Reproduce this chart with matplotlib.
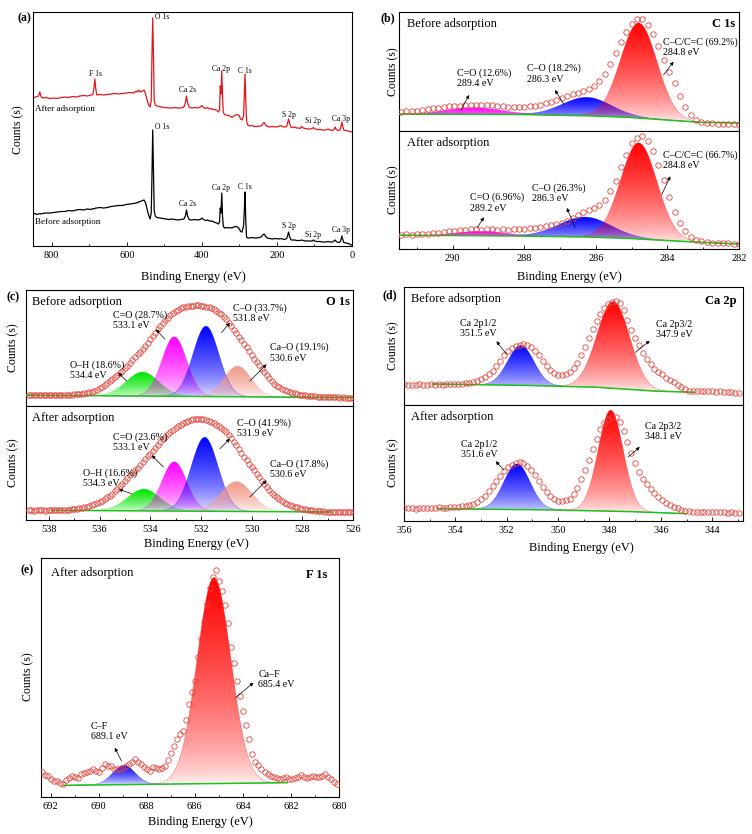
import numpy as np
import matplotlib
matplotlib.use("Agg")
import matplotlib.pyplot as plt
from matplotlib.colors import to_rgb
from matplotlib.ticker import MultipleLocator

plt.rcParams['font.family'] = ['Liberation Serif', 'DejaVu Serif']
plt.rcParams['axes.linewidth'] = 0.8

W, H = 752, 834  # figure size in pixels (dpi=100)

# ---------------- (a) survey spectra ----------------
survey_be = [850, 845, 840, 835, 832, 829, 825, 815, 805, 795, 785, 775, 765, 755, 745, 735, 725, 715, 705, 695,
             690, 687, 685, 683, 680, 672, 662, 652, 642, 632, 622, 612, 602, 592, 582, 575, 572, 568, 564, 558,
             554, 550, 546, 542, 538, 535, 533, 531, 529, 527, 524, 520, 512, 504, 496, 488, 480, 472, 464, 456,
             448, 444, 441, 438, 434, 428, 420, 412, 404, 400, 396, 390, 385, 380, 375, 370, 365, 360, 356, 353,
             351, 349, 347, 345, 343, 340, 335, 330, 325, 320, 315, 310, 305, 300, 297, 293, 289, 287, 285, 283,
             281, 278, 272, 266, 260, 254, 248, 242, 238, 234, 230, 226, 220, 212, 204, 196, 190, 186, 180, 174,
             171, 169, 166, 162, 156, 152, 148, 142, 138, 134, 130, 124, 118, 112, 106, 103, 100, 94, 86, 78,
             70, 64, 58, 52, 47, 45, 42, 37, 32, 29, 27, 25, 22, 16, 10, 5, 0]
survey_after = [149, 148.5, 149.5, 150, 154, 150, 148, 148.5, 147.5, 148, 147.5, 148.5, 149, 148.5, 149.5, 149, 150, 150.5, 150, 151,
                152, 160, 167, 158, 151, 151.5, 151, 151.5, 152, 152.5, 152, 152.5, 153, 153.5, 153, 155, 154, 156, 154, 155,
                156, 152, 146, 141, 139, 145, 190, 228, 190, 145, 141, 140, 139.5, 138.5, 138.5, 138, 138, 138.5, 138, 138,
                139, 143, 150, 143, 139, 138, 138.5, 138, 139, 140.5, 138.5, 137.5, 138.5, 137, 137.5, 136.5, 136.5, 135.5, 134, 136,
                160, 152, 175, 150, 134, 131.5, 131, 130.5, 130, 128.5, 130, 131, 131.5, 130, 127, 126, 130, 150, 172, 145,
                125, 121, 120, 120.5, 119.5, 119.5, 120, 120, 122, 123.5, 121, 119.5, 119, 119.5, 119, 119.5, 120.5, 119.5, 119, 119.5,
                124, 127, 122, 118.5, 118.5, 119, 118, 118, 117.5, 119.5, 118, 117.5, 117, 117, 117.5, 118.5, 117.5, 116.5, 116.5, 116,
                116, 117, 116, 115.5, 117, 119, 116.5, 115.5, 116, 120, 124, 120, 116, 115.5, 115, 114.5, 114]
survey_before = [32, 32.5, 31.5, 32, 32.5, 32, 32.5, 33, 33, 33.5, 34, 34.5, 34.5, 35.5, 35, 36, 36.5, 36, 37, 36.5,
                 37.5, 37, 37.5, 38, 38, 38.5, 38, 38.5, 39.5, 40, 40.5, 40.5, 41.5, 42, 42.5, 43, 43.5, 44, 44.5, 45.5,
                 46, 43, 37, 31, 27, 33, 70, 116, 75, 35, 30, 28.5, 28, 27.5, 27, 26.5, 27, 26.5, 26, 26.5,
                 27, 30, 36, 30, 26.5, 26, 26.5, 26, 26.5, 28, 26.5, 25.5, 26, 25, 25, 24.5, 23.5, 23, 22, 24,
                 38, 33, 53, 30, 20, 18, 18.5, 18, 18.5, 18, 19, 19.5, 19, 17, 14.5, 14, 20, 35, 54, 25,
                 9, 8, 8, 8.5, 8, 8, 8.5, 9, 11, 12, 9.5, 8, 7.5, 7, 7.5, 7, 7.5, 7, 6.5, 7.5,
                 11, 14, 9, 6, 6, 6, 5.5, 5.5, 5.5, 6, 5.5, 5, 5, 5, 5, 6, 5, 4.5, 4.5, 4,
                 4, 4.5, 4, 4, 5.5, 6, 4.5, 3.5, 4, 7, 10, 7, 3.5, 3, 2.5, 1.5, 1]
survey_names = ['F 1s', 'O 1s', 'Ca 2s', 'Ca 2p', 'C 1s', 'S 2p', 'Si 2p', 'Ca 3p']

# ---------------- (b) C 1s ----------------
C1S_START, C1S_STEP = 291.45, 0.15
c1s_before = [19.5, 19.8, 20.3, 20.1, 21.0, 21.6, 22.8, 23.4, 24.3, 24.6,
              25.4, 25.2, 25.9, 26.2, 25.8, 26.4, 25.9, 25.6, 25.0, 24.6,
              24.1, 23.8, 24.2, 24.0, 24.6, 25.5, 26.4, 27.8, 29.3, 30.9,
              32.7, 34.6, 36.7, 38.5, 40.4, 42.5, 45.5, 50.0, 57.0, 67.0,
              78.0, 89.0, 99.5, 107.5, 112.0, 112.5, 106.5, 97.5, 85.5, 71.5,
              59.0, 48.5, 35.5, 24.5, 16.5, 11.5, 9.5, 8.3, 7.9, 7.3,
              7.5, 7.0, 6.6, 6.4]
c1s_after = [14.3, 14.6, 14.2, 14.8, 14.5, 15.2, 15.6, 16.4, 17.0, 17.8,
             18.3, 18.9, 19.2, 19.5, 19.8, 19.4, 19.9, 19.5, 19.2, 19.6,
             19.3, 19.5, 19.8, 20.2, 20.6, 21.2, 22.0, 22.8, 23.9, 24.9,
             26.0, 28.2, 31.3, 34.0, 37.0, 39.0, 40.6, 44.0, 49.0, 57.5,
             68.0, 81.5, 94.3, 105.5, 111.0, 112.7, 108.0, 98.0, 84.3, 68.5,
             52.0, 37.0, 25.5, 17.5, 12.0, 9.3, 7.8, 7.0, 6.3, 6.0,
             5.8, 5.5, 5.3, 5.2]
c1s_base_be = [291.5, 288, 286, 285, 284, 283, 282]
c1s_before_base = [17, 16.5, 15, 13.5, 11, 8.5, 8]
c1s_after_base = [13.8, 13, 11.8, 10.5, 8.5, 6.5, 5]
c1s_before_centers = [289.4, 286.25, 284.8]
c1s_before_heights = [6.6, 18.5, 95]
c1s_before_fwhm = [1.8, 1.6, 1.2]
c1s_after_centers = [289.2, 286.3, 284.8]
c1s_after_heights = [4.4, 20, 96]
c1s_after_fwhm = [1.6, 1.7, 1.2]
c1s_colors = ['#FF00FF', '#0000FF', '#FF0000']

# ---------------- (c) O 1s ----------------
O1S_START, O1S_STEP = 538.8, 0.1
o1s_before = [11.0, 11.3, 10.8, 11.1, 11.2, 10.9, 11.0, 11.3, 11.1, 10.9,
              11.2, 11.0, 11.3, 11.1, 11.4, 11.2, 11.5, 11.4, 11.6, 11.8,
              12.1, 12.4, 12.7, 13.1, 13.7, 14.5, 15.4, 16.5, 17.9, 19.4,
              21.2, 23.0, 24.8, 26.7, 28.6, 30.6, 32.7, 35.2, 37.8, 40.4,
              43.1, 45.9, 48.8, 51.6, 54.4, 57.3, 60.2, 63.3, 66.6, 70.0,
              73.4, 76.8, 80.0, 83.0, 85.8, 88.3, 90.8, 93.0, 94.8, 96.3,
              97.6, 98.6, 99.3, 99.8, 100.2, 100.5, 100.7, 100.7, 100.4, 99.9,
              99.2, 98.6, 97.8, 96.6, 95.2, 93.5, 91.6, 89.4, 86.6, 83.4,
              79.8, 76.2, 72.8, 69.4, 66.0, 62.5, 58.7, 54.9, 51.1, 47.5,
              44.0, 40.6, 37.3, 34.0, 31.0, 28.0, 25.2, 22.5, 20.4, 18.6,
              17.1, 15.9, 15.0, 14.2, 13.4, 12.7, 12.0, 11.4, 10.8, 10.6,
              10.3, 10.1, 9.8, 9.7, 9.5, 9.3, 9.2, 9.0, 8.9, 8.8,
              8.9, 8.6, 8.7, 8.5, 8.6, 8.4, 8.5, 8.3, 8.3]
o1s_after = [9.6, 9.9, 9.5, 9.8, 9.6, 9.9, 9.7, 9.5, 9.8, 9.7,
             10.0, 9.8, 10.1, 10.0, 10.3, 10.2, 10.5, 10.7, 11.0, 11.3,
             11.7, 12.2, 12.8, 13.5, 14.2, 15.0, 15.8, 16.7, 17.8, 19.2,
             20.8, 22.6, 24.4, 26.5, 28.8, 31.1, 33.6, 36.2, 39.0, 41.9,
             44.7, 47.3, 50.0, 52.5, 55.0, 57.9, 60.8, 63.7, 66.5, 69.3,
             72.1, 75.0, 77.8, 80.6, 83.3, 85.9, 88.3, 90.5, 92.4, 94.1,
             95.5, 96.8, 98.0, 99.0, 99.9, 100.6, 101.0, 101.3, 101.3, 101.0,
             100.4, 99.5, 98.3, 97.0, 95.4, 93.6, 91.8, 89.9, 88.0, 85.1,
             81.8, 78.4, 74.9, 71.2, 67.4, 63.5, 59.7, 56.2, 52.9, 49.6,
             46.3, 42.8, 39.4, 36.0, 32.8, 30.0, 27.5, 25.2, 22.8, 20.7,
             18.9, 17.3, 16.1, 15.0, 14.1, 13.3, 12.6, 12.0, 11.5, 11.0,
             10.5, 10.1, 9.8, 9.5, 9.1, 8.8, 8.6, 8.5, 8.3, 8.4,
             8.1, 8.3, 8.0, 8.2, 7.9, 8.1, 7.8, 8.0, 7.9]
o1s_before_base_be = [538.9, 526.0]
o1s_before_base = [10.8, 8.4]
o1s_after_base_be = [537.9, 526.9]
o1s_after_base = [9.7, 8.0]
o1s_before_centers = [534.3, 533.05, 531.8, 530.55]
o1s_before_heights = [24, 59.5, 70.4, 30.7]
o1s_before_fwhm = [1.5, 1.15, 1.2, 1.25]
o1s_after_centers = [534.25, 533.05, 531.85, 530.6]
o1s_after_heights = [21.8, 49.3, 74, 29.9]
o1s_after_fwhm = [1.5, 1.15, 1.25, 1.45]
o1s_colors = ['#00E600', '#FF00FF', '#0000FF', '#F2998C']

# ---------------- (d) Ca 2p ----------------
CA_START, CA_STEP = 356.15, 0.15
ca2p_before = [20.0, 20.6, 19.8, 20.4, 20.1, 20.7, 20.2, 20.5, 20.9, 20.3,
               20.8, 20.5, 21.0, 20.7, 21.2, 21.0, 21.5, 21.8, 22.3, 23.0,
               24.0, 25.8, 28.0, 30.8, 34.0, 39.0, 44.5, 50.3, 54.5, 57.2,
               59.2, 60.5, 61.0, 60.0, 57.8, 54.3, 50.0, 44.5, 39.0, 35.0,
               32.2, 30.5, 30.3, 31.2, 33.5, 37.0, 42.5, 50.0, 58.0, 67.0,
               76.5, 84.5, 91.0, 96.8, 101.0, 103.5, 104.3, 101.8, 95.0, 85.5,
               75.0, 67.5, 60.0, 52.5, 46.5, 40.8, 36.5, 33.5, 30.6, 27.5,
               25.5, 23.0, 20.5, 18.0, 16.0, 14.5, 13.6, 13.9, 14.4, 14.2,
               13.6, 14.0, 13.5, 13.8, 13.1, 12.8, 13.2, 12.4, 12.1]
ca2p_after = [12.6, 13.4, 12.8, 13.3, 12.5, 13.0, 12.9, 13.5, 12.8, 13.2,
              13.6, 13.0, 13.5, 13.8, 14.0, 14.3, 14.6, 15.2, 16.0, 17.3,
              19.0, 22.0, 25.5, 30.0, 35.5, 40.5, 45.5, 50.3, 53.8, 56.5,
              58.3, 58.8, 57.8, 55.5, 51.5, 46.5, 40.5, 34.5, 29.0, 25.0,
              22.0, 20.5, 19.8, 20.6, 22.5, 27.0, 33.5, 42.0, 51.0, 61.5,
              72.0, 82.5, 92.0, 98.3, 102.5, 104.0, 104.0, 99.0, 90.0, 79.0,
              68.0, 58.5, 49.0, 42.0, 37.0, 32.0, 27.8, 24.3, 21.5, 18.5,
              16.5, 14.5, 12.7, 11.3, 10.4, 9.7, 9.4, 9.2, 9.5, 9.0,
              9.3, 8.8, 9.2, 8.6, 9.0, 8.5, 8.8, 8.2, 8.0]
ca2p_before_base_be = [354.9, 351, 348.4, 346.1, 344.7]
ca2p_before_base = [21, 19.5, 17.7, 13.7, 12.7]
ca2p_after_base_be = [354.7, 350, 347, 345]
ca2p_after_base = [12.3, 11, 9.3, 7.3]
ca2p_before_centers = [351.45, 347.85]
ca2p_before_heights = [40, 86.7]
ca2p_before_fwhm = [1.2, 1.5]
ca2p_after_centers = [351.6, 347.95]
ca2p_after_heights = [45.8, 101]
ca2p_after_fwhm = [1.2, 1.15]
ca2p_colors = ['#0000FF', '#FF0000']

# ---------------- (e) F 1s ----------------
F1S_START, F1S_STEP = 692.35, 0.125
f1s_after = [25.0, 22.5, 21.0, 18.0, 16.5, 16.0, 14.5, 12.7, 17.0, 19.5,
             21.0, 20.0, 19.3, 22.7, 24.0, 25.0, 26.5, 27.7, 26.0, 25.0,
             29.0, 32.7, 31.5, 31.0, 28.5, 27.7, 28.2, 29.0, 31.0, 32.7,
             35.0, 37.7, 35.5, 32.7, 30.0, 27.7, 26.0, 30.5, 29.5, 27.7,
             29.5, 31.0, 37.0, 44.0, 51.0, 58.0, 63.5, 66.5, 77.0, 93.0,
             105.0, 116.0, 140.0, 158.0, 175.5, 193.5, 209.0, 220.0, 227.0, 216.0,
             206.0, 192.0, 174.3, 150.0, 134.3, 116.0, 101.0, 86.0, 72.0, 58.5,
             43.5, 35.5, 32.0, 27.7, 25.5, 23.5, 21.0, 20.3, 19.5, 18.3,
             19.0, 20.0, 18.0, 17.7, 19.3, 20.5, 21.7, 20.2, 19.3, 20.0,
             21.0, 20.4, 20.0, 21.5, 22.7, 20.5, 18.3, 15.0, 12.7]
f1s_base_be = [691.45, 682.15]
f1s_base = [11.7, 14.3]
f1s_centers = [688.95, 685.2]
f1s_heights = [19.3, 206]
f1s_fwhm = [1.1, 1.65]
f1s_colors = ['#0000FF', '#FF0000']

fig = plt.figure(figsize=(W / 100, H / 100), dpi=100)


def px_axes(left, top, right, bottom):
    return fig.add_axes([left / W, 1 - bottom / H, (right - left) / W, (bottom - top) / H])


def fig_text(x, y, s, **kw):
    fig.text(x / W, 1 - y / H, s, **kw)


def grad_fill(ax, x, base, top, color):
    """fill between base and top with a vertical color -> transparent gradient"""
    coll = ax.fill_between(x, base, top, facecolor='none', edgecolor='none')
    img = np.ones((256, 1, 4))
    img[:, 0, :3] = to_rgb(color)
    img[:, 0, 3] = np.linspace(0.0, 1.0, 256) ** 0.6
    im = ax.imshow(img, extent=(x.min(), x.max(), base.min(), top.max()), origin='lower',
                   aspect='auto', interpolation='bilinear', zorder=2)
    im.set_clip_path(coll.get_paths()[0], transform=ax.transData)


def draw_xps(ax, start, step, counts, base_be, base_y, centers, heights, fwhms, colors, xlim, ylim):
    be = start - step * np.arange(len(counts))
    bx = np.linspace(min(base_be), max(base_be), 700)
    order = np.argsort(base_be)
    base = np.interp(bx, np.array(base_be)[order], np.array(base_y)[order])
    for c, h, w, col in zip(centers, heights, fwhms, colors):
        g = h * np.exp(-4 * np.log(2) * (bx - c) ** 2 / w ** 2)
        grad_fill(ax, bx, base, base + g, col)
        ax.plot(bx, base + g, color=col, lw=0.4, alpha=0.45, zorder=3)
    ax.plot(bx, base, color='#1BC41B', lw=1.1, zorder=4)
    ax.plot(be, counts, 'o', ms=3.9, mfc='none', mec='#E2463E', mew=0.6, zorder=5)
    ax.set_xlim(*xlim)
    ax.set_ylim(*ylim)


def style_axis(ax, major, minor, show_x):
    ax.tick_params(left=False, labelleft=False)
    if show_x:
        ax.xaxis.set_major_locator(MultipleLocator(major))
        ax.xaxis.set_minor_locator(MultipleLocator(minor))
        ax.tick_params(axis='x', which='both', direction='in', labelsize=7.5, width=0.6)
        ax.tick_params(axis='x', which='major', length=3)
        ax.tick_params(axis='x', which='minor', length=1.8)
    else:
        ax.tick_params(bottom=False, labelbottom=False)


def annotate(ax, text, tx, ty, tail, head):
    ax.text(tx, ty, text, fontsize=7.2, ha='left', va='center', linespacing=1.15, zorder=6)
    ax.annotate('', xy=head, xytext=tail,
                arrowprops=dict(arrowstyle='-|>', color='black', lw=0.5, mutation_scale=5,
                                shrinkA=0, shrinkB=0), zorder=6)


# ---------------- panel (a) ----------------
ax = px_axes(33, 12, 352, 246)
ax.plot(survey_be, survey_after, color='#E8141B', lw=0.9)
ax.plot(survey_be, survey_before, color='black', lw=0.9)
ax.set_xlim(850, 0)
ax.set_ylim(0, 234)
ax.tick_params(left=False, labelleft=False)
ax.xaxis.set_major_locator(MultipleLocator(200))
ax.xaxis.set_minor_locator(MultipleLocator(100))
ax.tick_params(axis='x', which='both', direction='in', labelsize=7.5, width=0.6)
ax.tick_params(axis='x', which='major', length=3)
ax.tick_params(axis='x', which='minor', length=1.8)
after_pos = [(684, 172), (526, 229), (439, 156), (348, 177), (286, 175), (169, 131), (103, 125), (28, 127)]
before_pos = [None, (526, 119), (439, 42), (348, 58), (286, 59), (169, 20), (103, 11), (28, 16)]
for name, pa, pb in zip(survey_names, after_pos, before_pos):
    ha = 'left' if name == 'O 1s' else 'center'
    ax.text(pa[0], pa[1], name, fontsize=5.5, ha=ha, va='center')
    if pb is not None:
        ax.text(pb[0], pb[1], name, fontsize=5.5, ha=ha, va='center')
ax.text(845, 137, 'After adsorption', fontsize=6.5, ha='left', va='center')
ax.text(845, 24, 'Before adsorption', fontsize=6.5, ha='left', va='center')

# ---------------- panel (b) ----------------
ax1 = px_axes(399, 12, 739, 131)
draw_xps(ax1, C1S_START, C1S_STEP, c1s_before, c1s_base_be, c1s_before_base, c1s_before_centers,
         c1s_before_heights, c1s_before_fwhm, c1s_colors, (291.5, 282), (0, 119))
style_axis(ax1, 2, 1, False)
ax1.text(291.28, 107, 'Before adsorption', fontsize=9, ha='left', va='center')
ax1.text(282.1, 107, 'C 1s', fontsize=9, fontweight='bold', ha='right', va='center')
annotate(ax1, 'C=O (12.6%)\n289.4 eV', 289.89, 53, (289.77, 21), (289.54, 36))
annotate(ax1, 'C\u2013O (18.2%)\n286.3 eV', 287.91, 57.3, (286.9, 27), (287.14, 41))
annotate(ax1, 'C\u2013C/C=C (69.2%)\n284.8 eV', 284.11, 83.5, (284.11, 56), (283.83, 69.3))

ax2 = px_axes(399, 131, 739, 249)
draw_xps(ax2, C1S_START, C1S_STEP, c1s_after, c1s_base_be, c1s_after_base, c1s_after_centers,
         c1s_after_heights, c1s_after_fwhm, c1s_colors, (291.5, 282), (0, 118))
style_axis(ax2, 2, 1, True)
ax2.text(291.28, 106, 'After adsorption', fontsize=9, ha='left', va='center')
annotate(ax2, 'C=O (6.96%)\n289.2 eV', 289.51, 46.3, (289.32, 21), (289.13, 31.7))
annotate(ax2, 'C\u2013O (26.3%)\n286.3 eV', 287.77, 55.7, (286.58, 21.7), (286.81, 41))
annotate(ax2, 'C\u2013C/C=C (66.7%)\n284.8 eV', 284.11, 89.2, (284.16, 54.3), (283.92, 72.7))

# ---------------- panel (c) ----------------
ax3 = px_axes(26, 290, 353, 406)
draw_xps(ax3, O1S_START, O1S_STEP, o1s_before, o1s_before_base_be, o1s_before_base, o1s_before_centers,
         o1s_before_heights, o1s_before_fwhm, o1s_colors, (538.9, 526), (0, 116))
style_axis(ax3, 2, 1, False)
ax3.text(538.65, 104, 'Before adsorption', fontsize=9, ha='left', va='center')
ax3.text(526.12, 104, 'O 1s', fontsize=9, fontweight='bold', ha='right', va='center')
annotate(ax3, 'C=O (28.7%)\n533.1 eV', 535.46, 86.2, (533.42, 66.7), (533.77, 76.7))
annotate(ax3, 'C\u2013O (33.7%)\n531.8 eV', 530.73, 92.8, (531.19, 73.3), (530.86, 83.3))
annotate(ax3, 'Ca\u2013O (19.1%)\n530.6 eV', 529.28, 53.3, (530.07, 25), (529.41, 41.7))
annotate(ax3, 'O\u2013H (18.6%)\n534.4 eV', 537.17, 35.7, (534.93, 25), (535.26, 33.3))

ax4 = px_axes(26, 406, 353, 520)
draw_xps(ax4, O1S_START, O1S_STEP, o1s_after, o1s_after_base_be, o1s_after_base, o1s_after_centers,
         o1s_after_heights, o1s_after_fwhm, o1s_colors, (538.9, 526), (0, 114))
style_axis(ax4, 2, 1, True)
ax4.text(538.65, 102, 'After adsorption', fontsize=9, ha='left', va='center')
annotate(ax4, 'C=O (23.6%)\n533.1 eV', 535.46, 77.5, (533.48, 53), (533.94, 64.7))
annotate(ax4, 'C\u2013O (41.9%)\n531.9 eV', 530.59, 91.5, (531.25, 71.3), (530.86, 81.3))
annotate(ax4, 'Ca\u2013O (17.8%)\n530.6 eV', 529.28, 50.8, (530.07, 23), (529.41, 39.7))
annotate(ax4, 'O\u2013H (16.6%)\n534.3 eV', 536.65, 42.2, (534.74, 26.3), (535.24, 30.7))

# ---------------- panel (d) ----------------
ax5 = px_axes(404, 287, 743, 405)
draw_xps(ax5, CA_START, CA_STEP, ca2p_before, ca2p_before_base_be, ca2p_before_base, ca2p_before_centers,
         ca2p_before_heights, ca2p_before_fwhm, ca2p_colors, (356, 342.8), (0, 118))
style_axis(ax5, 2, 1, False)
ax5.text(355.72, 106, 'Before adsorption', fontsize=9, ha='left', va='center')
ax5.text(343.05, 104, 'Ca 2p', fontsize=9, fontweight='bold', ha='right', va='center')
annotate(ax5, 'Ca 2p1/2\n351.5 eV', 353.83, 76.2, (352.01, 51), (352.4, 63.7))
annotate(ax5, 'Ca 2p3/2\n347.9 eV', 346.17, 75.7, (346.99, 52.7), (346.43, 64.3))

ax6 = px_axes(404, 405, 743, 521)
draw_xps(ax6, CA_START, CA_STEP, ca2p_after, ca2p_after_base_be, ca2p_after_base, ca2p_after_centers,
         ca2p_after_heights, ca2p_after_fwhm, ca2p_colors, (356, 342.8), (0, 116))
style_axis(ax6, 2, 1, True)
ax6.text(355.72, 104, 'After adsorption', fontsize=9, ha='left', va='center')
annotate(ax6, 'Ca 2p1/2\n351.6 eV', 353.77, 71.5, (352.1, 50.7), (352.43, 59.7))
annotate(ax6, 'Ca 2p3/2\n348.1 eV', 346.6, 89.5, (347.27, 64), (346.82, 74))

# ---------------- panel (e) ----------------
ax7 = px_axes(41, 558, 339, 797)
draw_xps(ax7, F1S_START, F1S_STEP, f1s_after, f1s_base_be, f1s_base, f1s_centers,
         f1s_heights, f1s_fwhm, f1s_colors, (692.4, 680), (0, 239))
style_axis(ax7, 2, 1, True)
ax7.text(692.0, 223.7, 'After adsorption', fontsize=9, ha='left', va='center')
ax7.text(680.5, 222, 'F 1s', fontsize=9, fontweight='bold', ha='right', va='center')
annotate(ax7, 'C\u2013F\n689.1 eV', 690.34, 65.5, (689.05, 36), (689.33, 49.3))
annotate(ax7, 'Ca\u2013F\n685.4 eV', 683.35, 117.7, (684.3, 99.3), (683.56, 114.3))

# ---------------- figure level labels ----------------
for x, y, s in [(24, 18, '(a)'), (388, 18, '(b)'), (13, 297, '(c)'), (390, 295, '(d)'), (27, 570, '(e)')]:
    fig_text(x, y, s, fontsize=8.5, fontweight='bold', ha='center', va='center')
for x, y in [(193, 277), (569, 277), (196, 544), (581, 548), (200, 822)]:
    fig_text(x, y, 'Binding Energy (eV)', fontsize=9, ha='center', va='center')
for x, y in [(18, 130), (393, 72), (393, 190), (13, 348), (13, 463), (393, 346), (393, 463), (28, 677)]:
    fig_text(x, y, 'Counts (s)', fontsize=8.5, rotation=90, ha='center', va='center')

fig.savefig('out.png', dpi=100)
